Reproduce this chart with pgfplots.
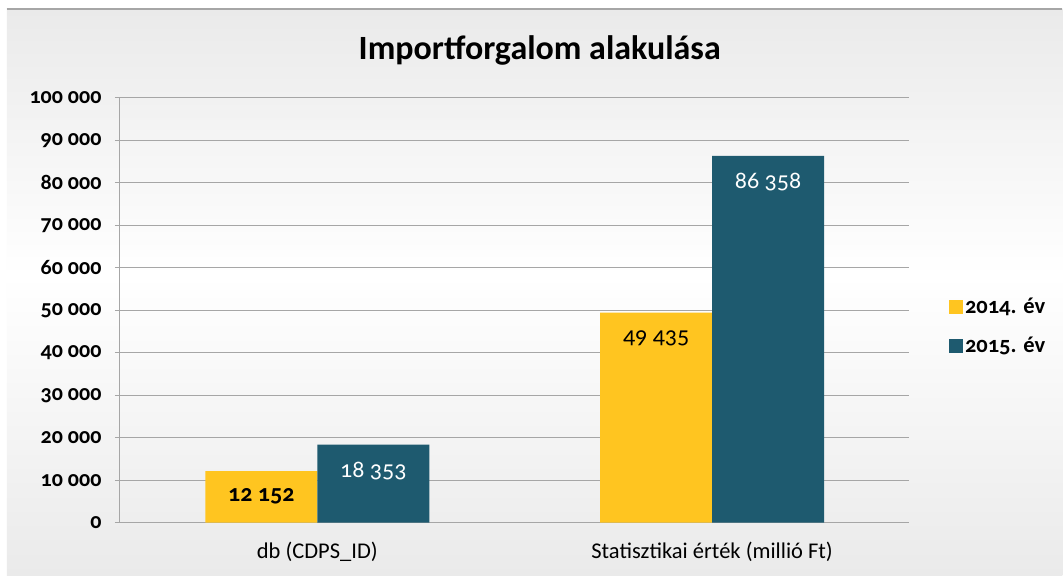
\documentclass[border=0pt]{standalone}
\usepackage{fontspec}
\setmainfont{Carlito}[Numbers=OldStyle]
\usepackage{pgfplots}
\pgfplotsset{compat=1.18}
\definecolor{cyel}{HTML}{FFC520}
\definecolor{cteal}{HTML}{1E5A6F}
\definecolor{cgrid}{HTML}{A6A6A6}
\definecolor{cbg}{HTML}{EAEAEA}
\begin{document}
\begin{tikzpicture}[x=1pt,y=1pt]
\fill[white] (0,0) rectangle (1063,576);
\shade[top color=white, bottom color=cbg] (7,0) rectangle (1063,300);
\shade[top color=cbg, bottom color=white] (7,300) rectangle (1063,567);
\draw[cgrid, line width=1.2pt] (7,567) -- (1063,567);
\node[font=\fontsize{34}{40}\selectfont\bfseries] at (540,526) {Importforgalom alakulása};
\begin{axis}[
  at={(120pt,53pt)}, anchor=south west,
  scale only axis, width=790pt, height=425pt,
  xmin=-0.5, xmax=1.5, ymin=0, ymax=100000,
  ybar=0pt, bar width=112pt,
  xtick={0,1}, xticklabels={{db (CDPS\textunderscore ID)}, {Statisztikai érték (millió Ft)}},
  ytick={0,10000,20000,30000,40000,50000,60000,70000,80000,90000,100000},
  yticklabels={0,10 000,20 000,30 000,40 000,50 000,60 000,70 000,80 000,90 000,100 000},
  axis lines*=left,
  axis line style={cgrid, line width=1pt},
  ymajorgrids, grid style={cgrid, line width=1pt},
  x tick style={draw=none},
  y tick style={cgrid, line width=1pt},
  major tick length=5pt,
  tick align=outside,
  scaled y ticks=false,
  yticklabel style={font=\fontsize{22}{26}\selectfont\bfseries, xshift=-10pt},
  xticklabel style={font=\fontsize{22.5}{27}\selectfont, yshift=-11pt},
  point meta=explicit symbolic,
  nodes near coords,
  every node near coord/.append style={anchor=north, yshift=-14pt, font=\fontsize{24}{28}\selectfont},
  legend style={at={(1.046,0.462)}, anchor=west, draw=none, fill=none,
    font=\fontsize{22.5}{27}\selectfont\bfseries, row sep=18pt,
    legend cell align=left},
  legend image code/.code={\fill[#1] (0pt,-7pt) rectangle (14pt,7pt);},
]
\addplot[fill=cyel, draw=none, nodes near coords style={text=black}]
  coordinates {(0,12152) [\textbf{12 152}] (1,49435) [49 435]};
\addplot[fill=cteal, draw=none, nodes near coords style={text=white}]
  coordinates {(0,18353) [18 353] (1,86358) [86 358]};
\legend{2014. év, 2015. év}
\end{axis}
\end{tikzpicture}
\end{document}
